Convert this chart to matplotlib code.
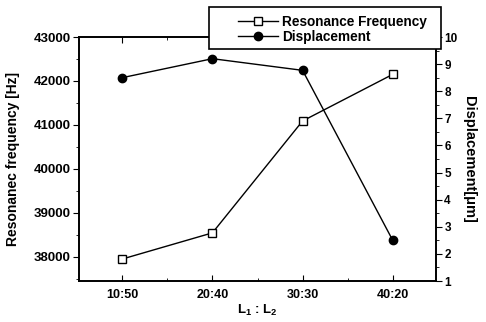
import matplotlib
matplotlib.use("Agg")
import matplotlib.pyplot as plt
from matplotlib.patches import Rectangle
from matplotlib.ticker import MultipleLocator

# ---------- data -------------------------------------------------------------
ratios = ["10:50", "20:40", "30:30", "40:20"]
resonance_hz = [37950, 38545, 41090, 42150]
displacement_um = [8.5, 9.2, 8.77, 2.5]

plt.rcParams["font.family"] = ["Liberation Sans", "DejaVu Sans"]
plt.rcParams["font.weight"] = "bold"
plt.rcParams["axes.labelweight"] = "bold"
plt.rcParams["mathtext.default"] = "bf"
plt.rcParams["mathtext.fontset"] = "custom"
plt.rcParams["mathtext.bf"] = "Liberation Sans:bold"

fig = plt.figure(figsize=(4.86, 3.22), dpi=100)
ax = fig.add_axes([79 / 486, 1 - 281 / 322, (436 - 79) / 486, (281 - 37) / 322])
ax2 = ax.twinx()

x = list(range(len(ratios)))
l1, = ax.plot(x, resonance_hz, color="black", lw=1, marker="s", ms=5.5,
              mfc="white", mec="black", mew=1, label="Resonance Frequency")
l2, = ax2.plot(x, displacement_um, color="black", lw=1, marker="o", ms=6,
               mfc="black", mec="black", label="Displacement")

ax.set_xlim(-0.48, 3.48)
ax.set_ylim(37450, 43000)
ax2.set_ylim(1, 10)

ax.set_xticks(x)
ax.set_xticklabels(ratios)
ax.xaxis.set_minor_locator(MultipleLocator(0.5))
ax.yaxis.set_major_locator(MultipleLocator(1000))
ax.yaxis.set_minor_locator(MultipleLocator(500))
ax2.yaxis.set_major_locator(MultipleLocator(1))
ax2.yaxis.set_minor_locator(MultipleLocator(0.5))

ax.tick_params(axis="x", which="both", direction="in", top=True)
ax.tick_params(axis="x", which="major", length=4, pad=6, labelsize=9)
ax.tick_params(axis="x", which="minor", length=2)
ax.tick_params(axis="y", which="major", direction="out", length=4, pad=2, labelsize=9.5)
ax.tick_params(axis="y", which="minor", direction="out", length=2)
ax2.tick_params(axis="y", which="major", direction="out", length=4, pad=2, labelsize=8.5)
ax2.tick_params(axis="y", which="minor", direction="out", length=2)

for a in (ax, ax2):
    for s in a.spines.values():
        s.set_linewidth(1.2)

ax.set_xlabel("L$_1$ : L$_2$", fontsize=9.5, labelpad=1)
ax.set_ylabel("Resonanec frequency [Hz]", fontsize=10, labelpad=10)
ax2.set_ylabel("Displacement[\u03bcm]", fontsize=10.5, rotation=270, labelpad=13)

# legend frame drawn as its own box, contents placed frameless on top
box = Rectangle((209 / 486, 1 - 49 / 322), (441 - 209) / 486, 42 / 322,
                transform=fig.transFigure, facecolor="white",
                edgecolor="black", lw=1.2, zorder=5)
fig.patches.append(box)
leg = fig.legend(handles=[l1, l2], loc="upper left",
                 bbox_to_anchor=(228 / 486, 1 - 5 / 322), frameon=False,
                 borderpad=0.2, labelspacing=0.1, handlelength=3.0,
                 handletextpad=0.3, fontsize=9.8)
leg.set_zorder(6)

fig.savefig("out.png", dpi=100)
